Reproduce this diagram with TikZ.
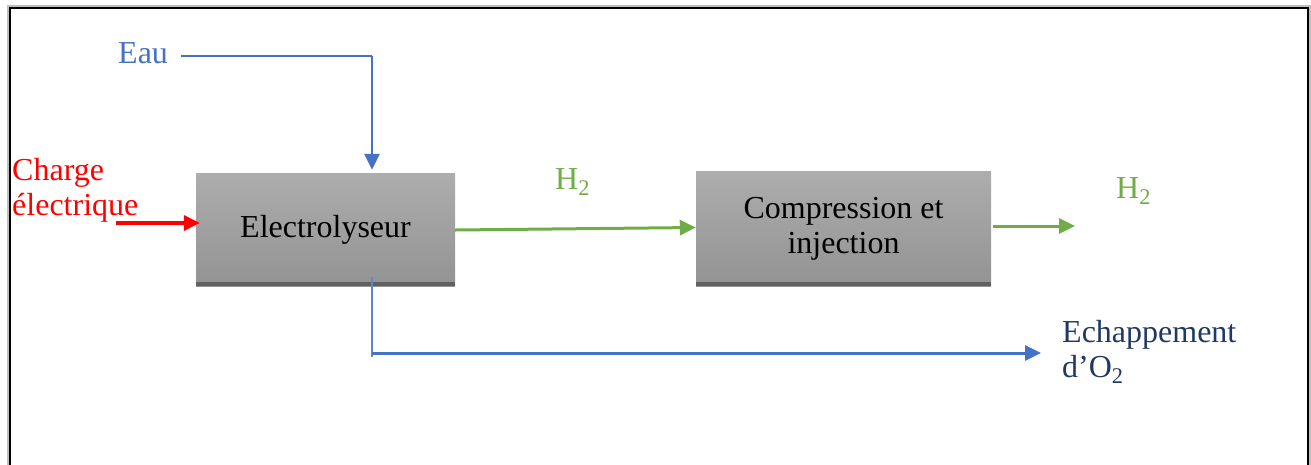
\documentclass[tikz,border=0pt]{standalone}
\usepackage{fontspec}
\setmainfont{Liberation Serif}
\usetikzlibrary{arrows.meta}
\definecolor{cblue}{HTML}{4472C4}
\definecolor{cgreen}{HTML}{70AD47}
\definecolor{cred}{HTML}{FF0000}
\definecolor{cnavy}{HTML}{203864}
\definecolor{boxtop}{HTML}{ADADAD}
\definecolor{boxbot}{HTML}{939393}
\definecolor{boxdark}{HTML}{606060}
\begin{document}
\begin{tikzpicture}[x=1pt,y=-1pt,
  every node/.style={font=\fontsize{32}{35}\selectfont},
  procbox/.style={rectangle, top color=boxtop, bottom color=boxbot, draw=none, inner sep=0pt, align=center},
  lbl/.style={inner sep=0pt, anchor=base west},
  mlbl/.style={inner sep=0pt, anchor=north west, align=left},
  tip/.style={-{Triangle[length=16pt,width=15pt]}},
  frameline/.style={line width=2.2pt, black}]
\useasboundingbox (0,0) rectangle (1311,464);
% frame
\draw[line width=4pt, black!25] (9,470) -- (9,7) -- (1309,7) -- (1309,470);
\draw[frameline] (10,470) -- (10,8) -- (1308,8) -- (1308,470);
% boxes
\node[procbox, minimum width=259pt, minimum height=113pt] (elec) at (325.5,229.5) {Electrolyseur};
\fill[boxdark] ([yshift=4pt]elec.south west) rectangle (elec.south east);
\node[procbox, minimum width=295pt, minimum height=115pt] (comp) at (843.5,228.5) {\raisebox{-3pt}{\parbox{290pt}{\centering Compression et\\injection}}};
\fill[boxdark] ([yshift=4pt]comp.south west) rectangle (comp.south east);
% labels
\node[lbl, text=cblue] (eau) at (118,63) {Eau};
\node[mlbl, text=cred] (charge) at (12,158) {Charge\\électrique};
\node[lbl, text=cgreen] (h2a) at (555,189) {H\textsubscript{2}};
\node[lbl, text=cgreen] (h2b) at (1116,198) {H\textsubscript{2}};
\node[mlbl, text=cnavy] (echap) at (1062,320) {Echappement\\d’O\textsubscript{2}};
% water
\coordinate (wcorner) at (372,56);
\coordinate (wstart) at (181,56);
\draw[cblue, line width=1.2pt] (wstart) -- (wcorner);
\draw[cblue, line width=2.5pt, tip, shorten >=3pt] (wcorner) -- (wcorner |- elec.north);
% electric charge
\coordinate (rstart) at (116,223);
\draw[cred, line width=3.5pt, tip, shorten >=-4pt] (rstart) -- (rstart -| elec.west);
% H2 flows
\draw[cgreen, line width=3pt, tip] ([yshift=-0.5pt]elec.east) -- ([yshift=1pt]comp.west);
\coordinate (h2end) at (1075,226);
\draw[cgreen, line width=3pt, tip] ([xshift=2pt]comp.east |- h2end) -- (h2end);
% O2 exhaust
\coordinate (ostart) at (372,277);
\coordinate (ocorner) at (372,357);
\coordinate (oend) at (1041,353);
\draw[cblue!85, line width=1.8pt] (ostart) -- (ocorner);
\draw[cblue, line width=3pt, tip] (ocorner |- oend) -- (oend);
\end{tikzpicture}
\end{document}
